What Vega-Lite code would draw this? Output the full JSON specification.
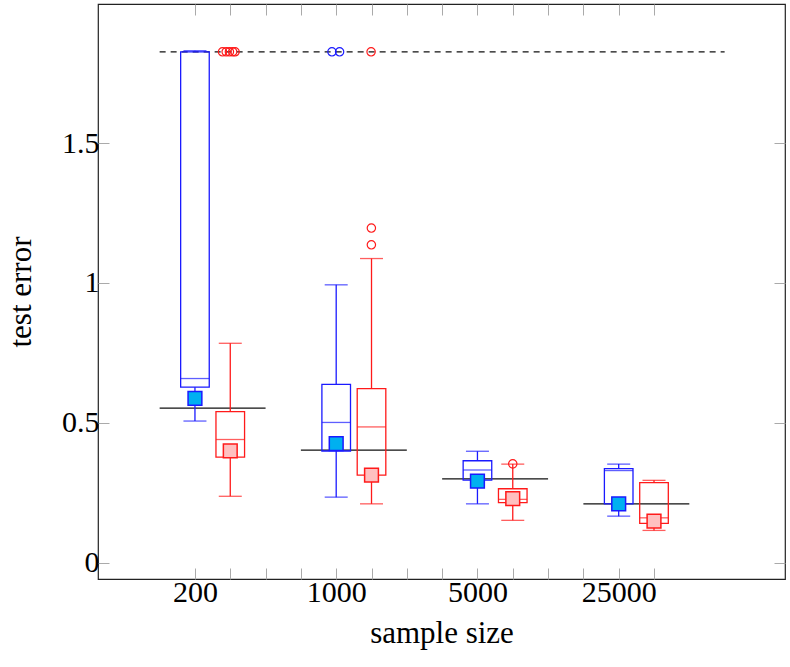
{
  "$schema": "https://vega.github.io/schema/vega-lite/v6.json",
  "width": 687,
  "height": 575,
  "autosize": "none",
  "padding": {"left": 98, "top": 4, "right": 5, "bottom": 88},
  "background": "white",
  "config": {
    "view": {"stroke": "#222222", "strokeWidth": 1.2},
    "font": "Liberation Serif",
    "axis": {"grid": false, "domain": false, "labelFont": "Liberation Serif", "titleFont": "Liberation Serif", "labelColor": "black", "titleColor": "black", "titleFontWeight": "normal", "tickColor": "#aaaaaa", "tickWidth": 1}
  },
  "datasets": {
    "boxes": [
      {"g": "200", "series": "A", "x": 0, "lo": 0.506, "q1": 0.627, "med": 0.658, "q3": 1.826, "hi": 1.830, "mean": 0.587},
      {"g": "1000", "series": "A", "x": 1, "lo": 0.234, "q1": 0.399, "med": 0.501, "q3": 0.637, "hi": 0.993, "mean": 0.425},
      {"g": "5000", "series": "A", "x": 2, "lo": 0.210, "q1": 0.295, "med": 0.331, "q3": 0.364, "hi": 0.398, "mean": 0.291},
      {"g": "25000", "series": "A", "x": 3, "lo": 0.166, "q1": 0.210, "med": 0.329, "q3": 0.336, "hi": 0.352, "mean": 0.210},
      {"g": "200", "series": "B", "x": 0.25, "lo": 0.237, "q1": 0.377, "med": 0.440, "q3": 0.540, "hi": 0.784, "mean": 0.399},
      {"g": "1000", "series": "B", "x": 1.25, "lo": 0.210, "q1": 0.313, "med": 0.485, "q3": 0.622, "hi": 1.087, "mean": 0.313},
      {"g": "5000", "series": "B", "x": 2.25, "lo": 0.151, "q1": 0.214, "med": 0.226, "q3": 0.264, "hi": 0.352, "mean": 0.229},
      {"g": "25000", "series": "B", "x": 3.25, "lo": 0.115, "q1": 0.140, "med": 0.160, "q3": 0.286, "hi": 0.294, "mean": 0.148}
    ],
    "outliers": [
      {"series": "B", "x": 0.195, "y": 1.826},
      {"series": "B", "x": 0.221, "y": 1.826},
      {"series": "B", "x": 0.244, "y": 1.826},
      {"series": "B", "x": 0.267, "y": 1.826},
      {"series": "B", "x": 0.284, "y": 1.826},
      {"series": "A", "x": 0.970, "y": 1.826},
      {"series": "A", "x": 1.024, "y": 1.826},
      {"series": "B", "x": 1.247, "y": 1.826},
      {"series": "B", "x": 1.249, "y": 1.196},
      {"series": "B", "x": 1.249, "y": 1.136},
      {"series": "B", "x": 2.25, "y": 0.353}
    ],
    "refs": [
      {"kind": "solid", "x1": -0.25, "x2": 0.5, "y": 0.552},
      {"kind": "solid", "x1": 0.75, "x2": 1.5, "y": 0.402},
      {"kind": "solid", "x1": 1.75, "x2": 2.5, "y": 0.299},
      {"kind": "solid", "x1": 2.75, "x2": 3.5, "y": 0.210},
      {"kind": "dashed", "x1": -0.25, "x2": 3.75, "y": 1.826}
    ]
  },
  "layer": [
    {
      "data": {"name": "refs"},
      "transform": [{"filter": "datum.kind == 'solid'"}],
      "mark": {"type": "rule", "color": "#111111", "strokeWidth": 1.3},
      "encoding": {
        "x": {"field": "x1", "type": "quantitative", "scale": {"domain": [-0.651, 4.142], "nice": false, "zero": false},
          "axis": {"orient": "bottom", "values": [0, 0.25, 0.5, 0.75, 1, 1.25, 1.5, 1.75, 2, 2.25, 2.5, 2.75, 3, 3.25], "tickSize": -11, "labelPadding": 9, "labelFontSize": 30, "labelExpr": "datum.value == 0 ? '200' : datum.value == 1 ? '1000' : datum.value == 2 ? '5000' : datum.value == 3 ? '25000' : ''", "labelFlush": false, "labelOverlap": false, "title": "sample size", "titleFontSize": 31, "titlePadding": 11}},
        "x2": {"field": "x2"},
        "y": {"field": "y", "type": "quantitative", "scale": {"domain": [-0.0587, 1.997], "nice": false, "zero": false},
          "axis": {"orient": "left", "values": [0, 0.5, 1, 1.5], "format": ".1~f", "tickSize": -11, "labelPadding": 10, "labelFontSize": 30, "labelFlush": false, "title": "test error", "titleFontSize": 31, "titlePadding": 24}}
      }
    },
    {
      "data": {"name": "refs"},
      "transform": [{"filter": "datum.kind == 'dashed'"}],
      "mark": {"type": "rule", "color": "#111111", "strokeWidth": 1.2, "strokeDash": [6, 5]},
      "encoding": {
        "x": {"field": "x1", "type": "quantitative", "scale": {"domain": [-0.651, 4.142], "nice": false, "zero": false},
          "axis": {"orient": "top", "values": [0, 0.25, 0.5, 0.75, 1, 1.25, 1.5, 1.75, 2, 2.25, 2.5, 2.75, 3, 3.25], "tickSize": -11, "labels": false, "title": null}},
        "x2": {"field": "x2"},
        "y": {"field": "y", "type": "quantitative", "scale": {"domain": [-0.0587, 1.997], "nice": false, "zero": false},
          "axis": {"orient": "right", "values": [0, 0.5, 1, 1.5], "tickSize": -11, "labels": false, "title": null}}
      }
    },
    {
      "data": {"name": "boxes"},
      "mark": {"type": "rule", "strokeWidth": 1.3},
      "encoding": {
        "x": {"field": "x", "type": "quantitative", "axis": null, "scale": {"domain": [-0.651, 4.142], "nice": false, "zero": false}},
        "y": {"field": "lo", "type": "quantitative", "axis": null, "scale": {"domain": [-0.0587, 1.997], "nice": false, "zero": false}},
        "y2": {"field": "q1"},
        "color": {"field": "series", "type": "nominal", "scale": {"domain": ["A", "B"], "range": ["#1a1aff", "#ff1a1a"]}, "legend": null}
      }
    },
    {
      "data": {"name": "boxes"},
      "mark": {"type": "rule", "strokeWidth": 1.3},
      "encoding": {
        "x": {"field": "x", "type": "quantitative", "axis": null, "scale": {"domain": [-0.651, 4.142], "nice": false, "zero": false}},
        "y": {"field": "q3", "type": "quantitative", "axis": null, "scale": {"domain": [-0.0587, 1.997], "nice": false, "zero": false}},
        "y2": {"field": "hi"},
        "color": {"field": "series", "type": "nominal", "scale": {"domain": ["A", "B"], "range": ["#1a1aff", "#ff1a1a"]}, "legend": null}
      }
    },
    {
      "data": {"name": "boxes"},
      "mark": {"type": "tick", "orient": "horizontal", "size": 23, "thickness": 1.3},
      "encoding": {
        "x": {"field": "x", "type": "quantitative", "axis": null, "scale": {"domain": [-0.651, 4.142], "nice": false, "zero": false}},
        "y": {"field": "lo", "type": "quantitative", "axis": null, "scale": {"domain": [-0.0587, 1.997], "nice": false, "zero": false}},
        "color": {"field": "series", "type": "nominal", "scale": {"domain": ["A", "B"], "range": ["#1a1aff", "#ff1a1a"]}, "legend": null}
      }
    },
    {
      "data": {"name": "boxes"},
      "mark": {"type": "tick", "orient": "horizontal", "size": 23, "thickness": 1.3},
      "encoding": {
        "x": {"field": "x", "type": "quantitative", "axis": null, "scale": {"domain": [-0.651, 4.142], "nice": false, "zero": false}},
        "y": {"field": "hi", "type": "quantitative", "axis": null, "scale": {"domain": [-0.0587, 1.997], "nice": false, "zero": false}},
        "color": {"field": "series", "type": "nominal", "scale": {"domain": ["A", "B"], "range": ["#1a1aff", "#ff1a1a"]}, "legend": null}
      }
    },
    {
      "data": {"name": "boxes"},
      "mark": {"type": "bar", "size": 28.6, "fill": "white", "fillOpacity": 0, "strokeWidth": 1.3},
      "encoding": {
        "x": {"field": "x", "type": "quantitative", "axis": null, "scale": {"domain": [-0.651, 4.142], "nice": false, "zero": false}},
        "y": {"field": "q1", "type": "quantitative", "axis": null, "scale": {"domain": [-0.0587, 1.997], "nice": false, "zero": false}},
        "y2": {"field": "q3"},
        "stroke": {"field": "series", "type": "nominal", "scale": {"domain": ["A", "B"], "range": ["#1a1aff", "#ff1a1a"]}, "legend": null}
      }
    },
    {
      "data": {"name": "boxes"},
      "mark": {"type": "tick", "orient": "horizontal", "size": 28.6, "thickness": 1.3},
      "encoding": {
        "x": {"field": "x", "type": "quantitative", "axis": null, "scale": {"domain": [-0.651, 4.142], "nice": false, "zero": false}},
        "y": {"field": "med", "type": "quantitative", "axis": null, "scale": {"domain": [-0.0587, 1.997], "nice": false, "zero": false}},
        "color": {"field": "series", "type": "nominal", "scale": {"domain": ["A", "B"], "range": ["#1a1aff", "#ff1a1a"]}, "legend": null}
      }
    },
    {
      "data": {"name": "outliers"},
      "mark": {"type": "point", "shape": "circle", "filled": false, "size": 70, "strokeWidth": 1.2, "opacity": 1},
      "encoding": {
        "x": {"field": "x", "type": "quantitative", "axis": null, "scale": {"domain": [-0.651, 4.142], "nice": false, "zero": false}},
        "y": {"field": "y", "type": "quantitative", "axis": null, "scale": {"domain": [-0.0587, 1.997], "nice": false, "zero": false}},
        "color": {"field": "series", "type": "nominal", "scale": {"domain": ["A", "B"], "range": ["#1a1aff", "#ff1a1a"]}, "legend": null}
      }
    },
    {
      "data": {"name": "boxes"},
      "mark": {"type": "point", "shape": "square", "filled": true, "size": 190, "strokeWidth": 1.5, "opacity": 1},
      "encoding": {
        "x": {"field": "x", "type": "quantitative", "axis": null, "scale": {"domain": [-0.651, 4.142], "nice": false, "zero": false}},
        "y": {"field": "mean", "type": "quantitative", "axis": null, "scale": {"domain": [-0.0587, 1.997], "nice": false, "zero": false}},
        "fill": {"field": "series", "type": "nominal", "scale": {"domain": ["A", "B"], "range": ["#00b0f0", "#ffc0c0"]}, "legend": null},
        "stroke": {"field": "series", "type": "nominal", "scale": {"domain": ["A", "B"], "range": ["#1a1aff", "#ff1a1a"]}, "legend": null}
      }
    }
  ]
}
